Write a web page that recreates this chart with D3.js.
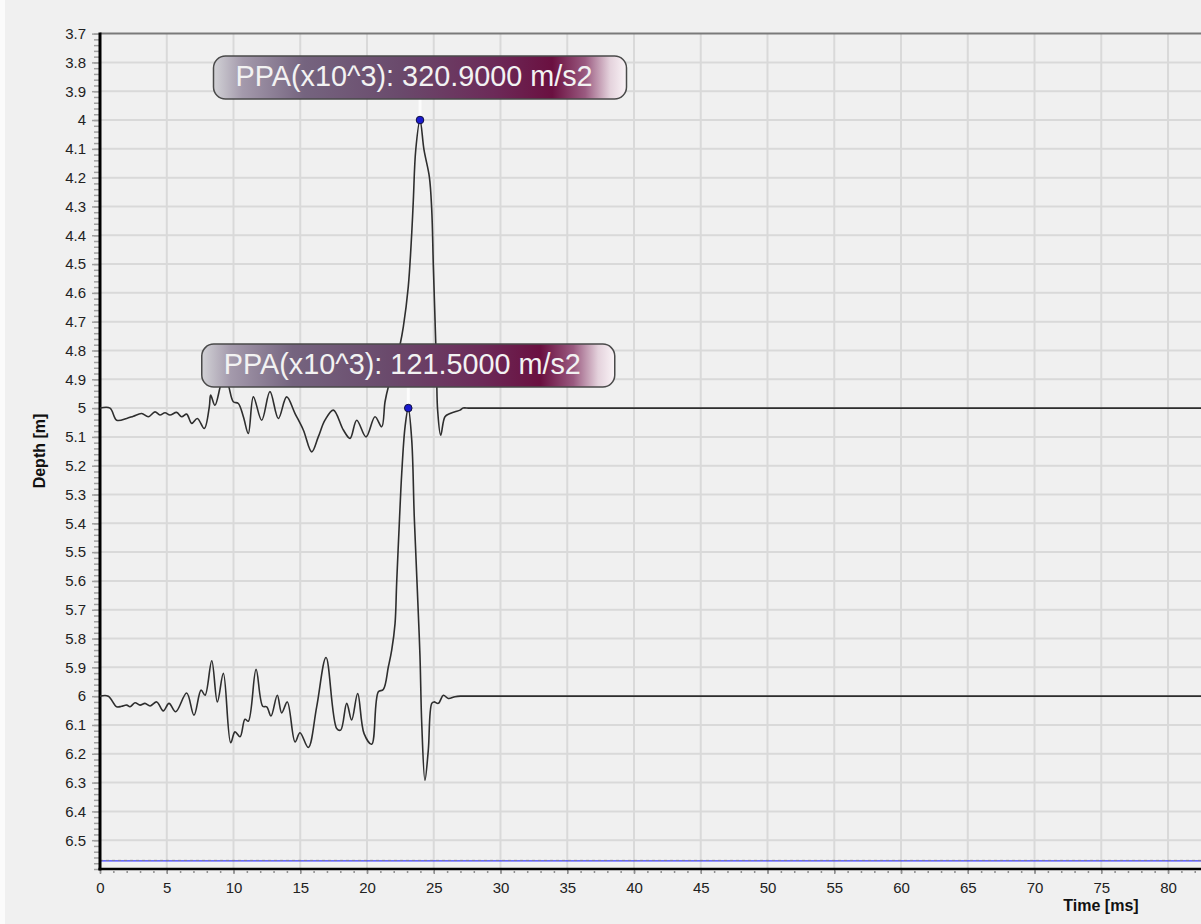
<!DOCTYPE html>
<html>
<head>
<meta charset="utf-8">
<script src="https://cdn.jsdelivr.net/npm/d3@7"></script>
<style>
  body { margin: 0; background: #f0f0f0; }
  svg { display: block; font-family: "Liberation Sans", Arial, sans-serif; }
</style>
</head>
<body>
<svg id="chart"></svg>
<script>
// values
const trace1Time  = [0, 0.75, 1.25, 2.0, 2.5, 3.12, 3.62, 4.12, 4.49, 4.87, 5.24, 5.74, 6.12, 6.49, 6.87, 7.29, 7.81, 8.19, 8.29, 8.61, 9.04, 9.29, 9.61, 9.99, 10.36, 10.74, 11.11, 11.49, 12.11, 12.73, 13.36, 13.98, 14.61, 15.23, 15.86, 16.35, 16.85, 17.48, 18.23, 18.73, 19.23, 19.93, 20.6, 21.1, 21.35, 21.6, 22.05, 22.47, 22.72, 23.09, 23.35, 23.47, 23.65, 23.97, 24.27, 24.67, 24.85, 24.97, 25.15, 25.22, 25.29, 25.52, 25.84, 26.22, 26.59, 26.97, 27.2, 27.6, 28.5, 82.5];
const trace1Depth = [5.0, 5.0, 5.042, 5.036, 5.028, 5.019, 5.030, 5.013, 5.024, 5.016, 5.024, 5.015, 5.030, 5.021, 5.053, 5.036, 5.071, 4.995, 4.955, 4.990, 4.92, 4.89, 4.92, 4.978, 4.984, 5.030, 5.088, 4.961, 5.042, 4.943, 5.036, 4.961, 5.019, 5.076, 5.152, 5.100, 5.042, 5.007, 5.076, 5.105, 5.042, 5.100, 5.030, 5.065, 4.978, 4.926, 4.86, 4.781, 4.718, 4.579, 4.393, 4.278, 4.104, 4.0, 4.104, 4.197, 4.313, 4.509, 4.775, 4.903, 5.007, 5.094, 5.030, 5.019, 5.013, 5.007, 5.0, 5.0, 5.0, 5.0];

const trace2Time  = [0, 0.62, 1.25, 1.62, 2.0, 2.25, 2.62, 3.0, 3.37, 3.75, 4.25, 4.74, 5.17, 5.67, 6.49, 7.04, 7.57, 7.87, 8.37, 8.79, 9.24, 9.79, 10.11, 10.49, 10.86, 11.11, 11.69, 12.19, 12.49, 12.81, 13.28, 13.61, 14.03, 14.61, 14.98, 15.6, 16.23, 16.93, 17.73, 18.03, 18.48, 18.85, 19.3, 19.78, 20.35, 20.85, 21.22, 21.6, 21.85, 22.1, 22.22, 22.42, 22.6, 22.85, 23.09, 23.35, 23.54, 23.77, 23.97, 24.1, 24.34, 24.59, 24.85, 25.02, 25.34, 25.72, 26.09, 26.59, 27.0, 27.6, 28.5, 82.5];
const trace2Depth = [6.0, 6.0, 6.037, 6.035, 6.031, 6.037, 6.023, 6.031, 6.025, 6.034, 6.020, 6.051, 6.025, 6.054, 5.989, 6.066, 5.979, 5.997, 5.877, 6.020, 5.921, 6.162, 6.124, 6.141, 6.080, 6.087, 5.907, 6.035, 6.037, 6.069, 5.997, 6.058, 6.020, 6.159, 6.127, 6.178, 6.037, 5.866, 6.112, 6.118, 6.025, 6.083, 5.991, 6.130, 6.167, 5.985, 5.977, 5.898, 5.840, 5.748, 5.609, 5.400, 5.227, 5.065, 5.0, 5.111, 5.377, 5.632, 5.864, 6.095, 6.292, 6.188, 6.025, 6.020, 6.025, 5.997, 6.008, 6.002, 6.0, 6.0, 6.0, 6.0];

const peakTime   = [23.97, 23.09];
const peakDepth  = [4.0, 5.0];
const peakLabels = ["PPA(x10^3): 320.9000 m/s2", "PPA(x10^3): 121.5000 m/s2"];

const depthTicks = [3.7, 3.8, 3.9, 4, 4.1, 4.2, 4.3, 4.4, 4.5, 4.6, 4.7, 4.8, 4.9, 5, 5.1, 5.2, 5.3, 5.4, 5.5, 5.6, 5.7, 5.8, 5.9, 6, 6.1, 6.2, 6.3, 6.4, 6.5];
const timeTicks  = [0, 5, 10, 15, 20, 25, 30, 35, 40, 45, 50, 55, 60, 65, 70, 75, 80];
const limitDepth = 6.572;

const width = 1201;
const height = 924;
const plot = { left: 100, right: 1201, top: 33.6, bottom: 869 };
const font = '"Liberation Sans", Arial, sans-serif';

const svg = d3.select('svg#chart').attr('width', width).attr('height', height);

svg.append('rect').attr('width', width).attr('height', height).attr('fill', '#f0f0f0');
svg.append('rect').attr('width', 5).attr('height', height).attr('fill', '#fbfbfb');

var xScale = d3.scaleLinear().domain([0, 82.47]).range([plot.left, plot.right]);
var yScale = d3.scaleLinear().domain([3.7, 6.6]).range([plot.top, plot.bottom]);

// grid
var grid = svg.append('g').attr('stroke', '#d9d9d9').attr('stroke-width', 2);
grid.selectAll('line.v').data(timeTicks.filter(d => d > 0)).enter().append('line')
  .attr('x1', d => xScale(d)).attr('x2', d => xScale(d))
  .attr('y1', plot.top).attr('y2', plot.bottom);
grid.selectAll('line.h').data(depthTicks.filter(d => d > 3.7)).enter().append('line')
  .attr('y1', d => yScale(d)).attr('y2', d => yScale(d))
  .attr('x1', plot.left).attr('x2', plot.right);

// top frame
svg.append('line').attr('x1', plot.left).attr('x2', plot.right)
  .attr('y1', plot.top).attr('y2', plot.top)
  .attr('stroke', '#7a7a7a').attr('stroke-width', 2);

// limit line near the bottom
svg.append('line').attr('x1', plot.left).attr('x2', plot.right)
  .attr('y1', yScale(limitDepth)).attr('y2', yScale(limitDepth))
  .attr('stroke', '#3a3aff').attr('stroke-width', 1.2);
svg.append('line').attr('x1', plot.left).attr('x2', plot.right)
  .attr('y1', yScale(limitDepth) - 0.6).attr('y2', yScale(limitDepth) - 0.6)
  .attr('stroke', '#808080').attr('stroke-width', 0.8).attr('stroke-dasharray', '3,3');

// y axis
var minorDepth = d3.range(0, 146).map(i => +(3.7 + i * 0.02).toFixed(2));
var yMinor = svg.append('g').attr('transform', 'translate(' + plot.left + ',0)')
  .call(d3.axisLeft(yScale).tickValues(minorDepth).tickSize(6).tickFormat(''));
yMinor.select('.domain').remove();
yMinor.selectAll('line').attr('stroke', '#a0a0a0').attr('stroke-width', 1.5);

var yAxis = svg.append('g').attr('transform', 'translate(' + plot.left + ',0)')
  .call(d3.axisLeft(yScale).tickValues(depthTicks).tickSize(8).tickPadding(6).tickFormat(d => String(d)));
yAxis.select('.domain').remove();
yAxis.selectAll('line').attr('stroke', '#a0a0a0').attr('stroke-width', 1.5);
yAxis.selectAll('text').attr('font-size', 15).attr('fill', '#222').attr('font-family', font);

// x axis
var minorTime = d3.range(0, 83);
var xMinor = svg.append('g').attr('transform', 'translate(0,' + plot.bottom + ')')
  .call(d3.axisBottom(xScale).tickValues(minorTime).tickSize(4).tickFormat(''));
xMinor.select('.domain').remove();
xMinor.selectAll('line').attr('stroke', '#909090').attr('stroke-width', 1.5).attr('stroke-dasharray', '0,2,2');

var xAxis = svg.append('g').attr('transform', 'translate(0,' + plot.bottom + ')')
  .call(d3.axisBottom(xScale).tickValues(timeTicks).tickSize(5).tickPadding(8));
xAxis.select('.domain').remove();
xAxis.selectAll('line').attr('stroke', '#909090').attr('stroke-width', 1.5);
xAxis.selectAll('text').attr('font-size', 15).attr('fill', '#222').attr('font-family', font);

// axis lines
svg.append('line').attr('x1', plot.left).attr('x2', plot.left)
  .attr('y1', plot.top - 1).attr('y2', plot.bottom + 1.5)
  .attr('stroke', '#000').attr('stroke-width', 3);
svg.append('line').attr('x1', plot.left - 1.5).attr('x2', plot.right)
  .attr('y1', plot.bottom).attr('y2', plot.bottom)
  .attr('stroke', '#000').attr('stroke-width', 2.5);

// axis titles
svg.append('text').attr('transform', 'translate(45,451) rotate(-90)')
  .attr('text-anchor', 'middle').attr('font-weight', 'bold').attr('font-size', 16)
  .attr('fill', '#111').text('Depth [m]');
svg.append('text').attr('x', 1101).attr('y', 911)
  .attr('text-anchor', 'middle').attr('font-weight', 'bold').attr('font-size', 16)
  .attr('fill', '#111').text('Time [ms]');

// traces
var line = d3.line()
  .x(d => xScale(d[0]))
  .y(d => yScale(d[1]))
  .curve(d3.curveCatmullRom.alpha(0.5));

var traces = [
  d3.zip(trace1Time, trace1Depth),
  d3.zip(trace2Time, trace2Depth)
];

svg.append('clipPath').attr('id', 'plot-clip').append('rect')
  .attr('x', plot.left).attr('y', plot.top).attr('width', plot.right - plot.left).attr('height', plot.bottom - plot.top);

svg.append('g').attr('clip-path', 'url(#plot-clip)')
  .selectAll('path').data(traces).enter().append('path')
  .attr('d', line)
  .attr('fill', 'none')
  .attr('stroke', '#2e2e2e')
  .attr('stroke-width', 1.6);

// labels with gradient boxes
var defs = svg.append('defs');
var grad = defs.append('linearGradient').attr('id', 'box-grad')
  .attr('x1', '0%').attr('x2', '100%').attr('y1', '0%').attr('y2', '0%');
[[0, '#d2d2d6'], [0.07, '#a49aac'], [0.22, '#75647f'], [0.45, '#6a4a6c'], [0.68, '#6c2a58'],
 [0.82, '#6a1040'], [0.9, '#9a5a80'], [0.96, '#e4d2dc'], [1, '#faf4f7']]
  .forEach(s => grad.append('stop').attr('offset', s[0]).attr('stop-color', s[1]));

var boxW = 413, boxH = 43, boxGap = 21;
var labels = svg.append('g').selectAll('g').data(d3.range(peakTime.length)).enter().append('g');

labels.append('line')
  .attr('x1', i => xScale(peakTime[i])).attr('x2', i => xScale(peakTime[i]))
  .attr('y1', i => yScale(peakDepth[i]) - boxGap).attr('y2', i => yScale(peakDepth[i]))
  .attr('stroke', '#ffffff').attr('stroke-width', 3).attr('opacity', 0.8);

labels.append('rect')
  .attr('x', i => xScale(peakTime[i]) - boxW / 2)
  .attr('y', i => yScale(peakDepth[i]) - boxGap - boxH)
  .attr('width', boxW).attr('height', boxH)
  .attr('rx', 12).attr('ry', 12)
  .attr('fill', 'url(#box-grad)')
  .attr('stroke', '#4a4a4a').attr('stroke-width', 1.5);

labels.append('text')
  .attr('x', i => xScale(peakTime[i]) - boxW / 2 + 22)
  .attr('y', i => yScale(peakDepth[i]) - boxGap - boxH + 30)
  .attr('font-size', 28.8)
  .attr('fill', '#f2f2f2')
  .attr('font-family', font)
  .text(i => peakLabels[i]);

labels.append('circle')
  .attr('cx', i => xScale(peakTime[i])).attr('cy', i => yScale(peakDepth[i]))
  .attr('r', 3.8)
  .attr('fill', '#1a1ad0').attr('stroke', '#101040').attr('stroke-width', 1);
</script>
</body>
</html>
